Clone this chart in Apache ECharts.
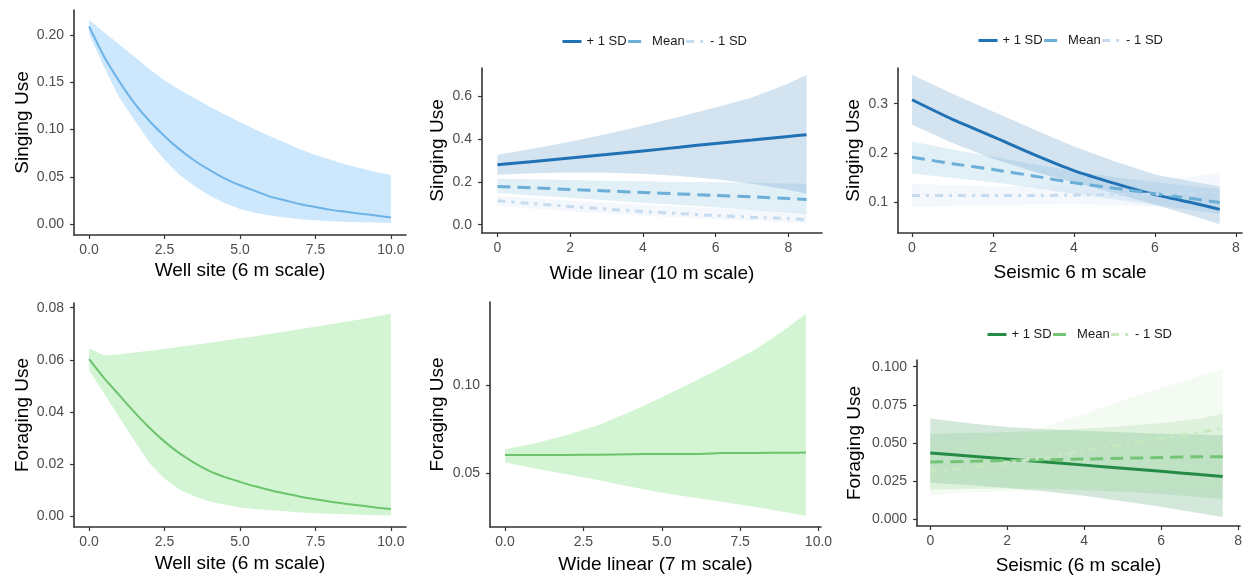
<!DOCTYPE html>
<html>
<head>
<meta charset="utf-8">
<script src="https://cdn.jsdelivr.net/npm/echarts@6/dist/echarts.min.js"></script>
<style>
html,body{margin:0;padding:0;background:#fff;}
#chart{width:1247px;height:580px;}
</style>
</head>
<body>
<div id="chart"></div>
<script>
// ---------- Panel 1: Singing use vs Well site (6 m scale) ----------
const wellX = [0,0.5,1,1.5,2,2.5,3,3.5,4,4.5,5,5.5,6,6.5,7,7.5,8,8.5,9,9.5,10];
const singWellMean = [0.209,0.177,0.151,0.128,0.109,0.093,0.079,0.067,0.057,0.048,0.041,0.035,0.029,0.025,0.021,0.018,0.015,0.013,0.011,0.009,0.007];
const singWellLow  = [0.201,0.166,0.134,0.110,0.087,0.068,0.052,0.040,0.030,0.022,0.016,0.012,0.009,0.007,0.005,0.004,0.003,0.0025,0.002,0.0015,0.001];
const singWellHigh = [0.216,0.203,0.190,0.177,0.164,0.152,0.142,0.133,0.124,0.116,0.108,0.100,0.093,0.086,0.079,0.073,0.068,0.063,0.059,0.055,0.052];

// ---------- Panel 2: Singing use vs Wide linear (10 m scale) ----------
const wideSingX = [0,1,2,3,4,5,6,7,8,8.5];
const wideSingPlus     = [0.280,0.296,0.312,0.328,0.345,0.362,0.380,0.396,0.413,0.421];
const wideSingPlusLow  = [0.234,0.240,0.244,0.243,0.238,0.228,0.213,0.192,0.163,0.145];
const wideSingPlusHigh = [0.327,0.356,0.388,0.424,0.463,0.505,0.548,0.595,0.660,0.700];
const wideSingMean     = [0.179,0.172,0.165,0.158,0.151,0.144,0.137,0.130,0.122,0.118];
const wideSingMeanLow  = [0.148,0.137,0.126,0.114,0.103,0.092,0.081,0.069,0.057,0.050];
const wideSingMeanHigh = [0.215,0.212,0.209,0.206,0.203,0.200,0.198,0.196,0.193,0.192];
const wideSingMinus     = [0.112,0.098,0.085,0.073,0.062,0.052,0.043,0.035,0.028,0.024];
const wideSingMinusLow  = [0.088,0.075,0.063,0.052,0.042,0.033,0.025,0.018,0.010,0.006];
const wideSingMinusHigh = [0.135,0.124,0.113,0.103,0.094,0.085,0.077,0.070,0.064,0.061];

// ---------- Panel 3: Singing use vs Seismic 6 m scale ----------
const seisSingX = [0,1,2,3,4,5,6,7,7.6];
const seisSingPlus     = [0.308,0.268,0.233,0.197,0.164,0.138,0.115,0.097,0.085];
const seisSingPlusLow  = [0.257,0.220,0.188,0.162,0.140,0.118,0.095,0.070,0.055];
const seisSingPlusHigh = [0.359,0.320,0.284,0.248,0.213,0.183,0.156,0.140,0.132];
const seisSingMean     = [0.191,0.178,0.166,0.153,0.139,0.128,0.117,0.106,0.099];
const seisSingMeanLow  = [0.158,0.149,0.140,0.129,0.117,0.105,0.094,0.083,0.076];
const seisSingMeanHigh = [0.223,0.207,0.192,0.177,0.163,0.151,0.140,0.131,0.126];
const seisSingMinus     = [0.113,0.113,0.113,0.113,0.114,0.115,0.116,0.117,0.118];
const seisSingMinusLow  = [0.090,0.092,0.094,0.095,0.096,0.094,0.090,0.084,0.080];
const seisSingMinusHigh = [0.137,0.134,0.132,0.132,0.134,0.139,0.145,0.153,0.159];

// ---------- Panel 4: Foraging use vs Well site (6 m scale) ----------
const forWellMean = [0.0603,0.053,0.0465,0.040,0.034,0.0287,0.0242,0.0205,0.0174,0.0151,0.0133,0.0116,0.0101,0.0088,0.0076,0.0066,0.0057,0.0049,0.0042,0.0035,0.0029];
const forWellLow  = [0.056,0.047,0.038,0.029,0.0205,0.0145,0.0103,0.0077,0.0058,0.0045,0.0035,0.0029,0.0024,0.002,0.0016,0.0013,0.0011,0.0009,0.0007,0.0005,0.0004];
const forWellHigh = [0.0645,0.0617,0.0622,0.0628,0.0635,0.0642,0.065,0.0658,0.0666,0.0674,0.0683,0.0691,0.070,0.0709,0.0718,0.0727,0.0737,0.0746,0.0756,0.0766,0.0777];

// ---------- Panel 5: Foraging use vs Wide linear (7 m scale) ----------
const wideForX = [0,1,2,3,4,5,6,7,8,9,9.6];
const wideForMean = [0.0604,0.0605,0.0605,0.0606,0.0609,0.0610,0.0610,0.0615,0.0616,0.0617,0.0618];
const wideForLow  = [0.0562,0.0527,0.0494,0.0462,0.0425,0.0392,0.0365,0.0338,0.0312,0.0280,0.0262];
const wideForHigh = [0.0637,0.0672,0.0718,0.0775,0.0848,0.0930,0.1015,0.1105,0.1200,0.1320,0.1400];

// ---------- Panel 6: Foraging use vs Seismic (6 m scale) ----------
const seisForX = [0,1,2,3,4,5,6,7,7.6];
const seisForPlus     = [0.0435,0.0415,0.0395,0.0375,0.0355,0.0335,0.0315,0.0293,0.0280];
const seisForPlusLow  = [0.0240,0.0225,0.0205,0.0182,0.0155,0.0118,0.0082,0.0040,0.0015];
const seisForPlusHigh = [0.0660,0.0630,0.0605,0.0590,0.0580,0.0570,0.0560,0.0555,0.0550];
const seisForMean     = [0.0375,0.0380,0.0385,0.0390,0.0395,0.0400,0.0405,0.0410,0.0410];
const seisForMeanLow  = [0.0195,0.0200,0.0202,0.0200,0.0190,0.0180,0.0165,0.0145,0.0133];
const seisForMeanHigh = [0.0560,0.0565,0.0570,0.0580,0.0595,0.0610,0.0630,0.0660,0.0690];
const seisForMinus     = [0.0310,0.0340,0.0370,0.0405,0.0450,0.0490,0.0530,0.0570,0.0595];
const seisForMinusLow  = [0.0160,0.0175,0.0185,0.0190,0.0195,0.0197,0.0197,0.0197,0.0197];
const seisForMinusHigh = [0.0500,0.0520,0.0550,0.0610,0.0690,0.0780,0.0860,0.0940,0.0980];

// ---------- Tick labels ----------
const wellTicks = [0, 2.5, 5, 7.5, 10];
const seisTicks = [0, 2, 4, 6, 8];
const singWellYTicks = [0, 0.05, 0.10, 0.15, 0.20];
const singWideYTicks = [0, 0.2, 0.4, 0.6];
const singSeisYTicks = [0.1, 0.2, 0.3];
const forWellYTicks = [0, 0.02, 0.04, 0.06, 0.08];
const forWideYTicks = [0.05, 0.10];
const forSeisYTicks = [0, 0.025, 0.05, 0.075, 0.1];
const legendLabels = ['+ 1 SD', 'Mean', '- 1 SD'];

// ---------- Styling ----------
const FONT = '"Liberation Sans", Arial, sans-serif';
const blues = ['#2171b5', '#6baed6', '#c6dbef'];
const greens = ['#238b45', '#74c476', '#c7e9c0'];
const lineTypes = ['solid', [13, 7], [8, 6, 3, 6]];

const grids = [], xAxes = [], yAxes = [], series = [], legends = [];

function addPanel(p) {
  const gi = grids.length;
  grids.push({left: p.left, top: p.top, width: p.right - p.left, height: p.bottom - p.top, outerBoundsMode: 'none'});
  const axisCommon = {
    type: 'value', gridIndex: gi, nameLocation: 'middle',
    nameTextStyle: {fontSize: 19, color: '#000', fontFamily: FONT},
    splitLine: {show: false},
    axisLine: {show: true, onZero: false, lineStyle: {color: '#333', width: 1.6}},
  };
  xAxes.push(Object.assign({}, axisCommon, {
    min: p.xmin, max: p.xmax, name: p.xname, nameGap: p.xgap,
    axisTick: {show: true, length: 4, customValues: p.xticks, lineStyle: {color: '#333', width: 1.2}},
    axisLabel: {customValues: p.xticks, formatter: v => v.toFixed(p.xdec), fontSize: 14, color: '#4d4d4d', fontFamily: FONT, margin: 8}
  }));
  yAxes.push(Object.assign({}, axisCommon, {
    min: p.ymin, max: p.ymax, name: p.yname, nameGap: p.ygap,
    axisTick: {show: true, length: 4, customValues: p.yticks, lineStyle: {color: '#333', width: 1.2}},
    axisLabel: {customValues: p.yticks, formatter: v => v.toFixed(p.ydec), fontSize: 14, color: '#4d4d4d', fontFamily: FONT, margin: 10}
  }));
  return gi;
}

// confidence ribbon: polygon through the axis scales (upper edge forward, lower edge back)
function addBand(gi, xs, lo, hi, color, opacity) {
  series.push({
    type: 'custom', xAxisIndex: gi, yAxisIndex: gi, silent: true, z: 1,
    data: xs.map((x, i) => [x, lo[i], hi[i]]),
    encode: {x: 0, y: [1, 2]},
    renderItem: function (params, api) {
      if (params.dataIndex !== 0) return null;
      const upper = xs.map((x, i) => api.coord([x, hi[i]]));
      const lower = xs.map((x, i) => api.coord([x, lo[i]])).reverse();
      return {type: 'polygon', shape: {points: upper.concat(lower)}, style: {fill: color, opacity: opacity}};
    }
  });
}

function addLine(gi, name, xs, ys, color, width, type) {
  series.push({
    type: 'line', name: name, xAxisIndex: gi, yAxisIndex: gi,
    data: xs.map((x, i) => [x, ys[i]]), symbol: 'none', smooth: 0.2,
    lineStyle: {color: color, width: width, type: type}, itemStyle: {color: color}, z: 3
  });
}

function addLegend(prefix, left, top) {
  legends.push({
    left: left, top: top, padding: 0, orient: 'horizontal', itemGap: 0, itemWidth: 19, itemHeight: 14,
    icon: 'inherit',
    itemStyle: {opacity: 0},
    lineStyle: {width: 3},
    data: legendLabels.map(l => prefix + l),
    formatter: n => n.slice(prefix.length),
    textStyle: {fontSize: 13, color: '#1a1a1a', fontFamily: FONT},
    selectedMode: false
  });
}

// Panel 1
let g = addPanel({left: 74, top: 10, right: 406, bottom: 235,
  xmin: -0.5, xmax: 10.5, xticks: wellTicks, xdec: 1, xname: 'Well site (6 m scale)', xgap: 26,
  ymin: -0.0116, ymax: 0.2265, yticks: singWellYTicks, ydec: 2, yname: 'Singing Use', ygap: 42});
addBand(g, wellX, singWellLow, singWellHigh, '#cde8fc', 1);
addLine(g, 'p1', wellX, singWellMean, '#6db3e8', 2, 'solid');

// Panel 2
g = addPanel({left: 482, top: 68, right: 822, bottom: 233,
  xmin: -0.425, xmax: 8.925, xticks: seisTicks, xdec: 0, xname: 'Wide linear (10 m scale)', xgap: 31,
  ymin: -0.039, ymax: 0.733, yticks: singWideYTicks, ydec: 1, yname: 'Singing Use', ygap: 35});
addBand(g, wideSingX, wideSingPlusLow, wideSingPlusHigh, blues[0], 0.2);
addBand(g, wideSingX, wideSingMeanLow, wideSingMeanHigh, blues[1], 0.2);
addBand(g, wideSingX, wideSingMinusLow, wideSingMinusHigh, blues[2], 0.2);
addLine(g, 'S2 + 1 SD', wideSingX, wideSingPlus, blues[0], 3, lineTypes[0]);
addLine(g, 'S2 Mean', wideSingX, wideSingMean, blues[1], 3, lineTypes[1]);
addLine(g, 'S2 - 1 SD', wideSingX, wideSingMinus, blues[2], 3, lineTypes[2]);
addLegend('S2 ', 561, 35);

// Panel 3
g = addPanel({left: 898, top: 68, right: 1242, bottom: 233,
  xmin: -0.346, xmax: 8.15, xticks: seisTicks, xdec: 0, xname: 'Seismic 6 m scale', xgap: 30,
  ymin: 0.037, ymax: 0.3725, yticks: singSeisYTicks, ydec: 1, yname: 'Singing Use', ygap: 35});
addBand(g, seisSingX, seisSingPlusLow, seisSingPlusHigh, blues[0], 0.2);
addBand(g, seisSingX, seisSingMeanLow, seisSingMeanHigh, blues[1], 0.2);
addBand(g, seisSingX, seisSingMinusLow, seisSingMinusHigh, blues[2], 0.2);
addLine(g, 'S3 + 1 SD', seisSingX, seisSingPlus, blues[0], 3, lineTypes[0]);
addLine(g, 'S3 Mean', seisSingX, seisSingMean, blues[1], 3, lineTypes[1]);
addLine(g, 'S3 - 1 SD', seisSingX, seisSingMinus, blues[2], 3, lineTypes[2]);
addLegend('S3 ', 977, 34);

// Panel 4
g = addPanel({left: 74, top: 303, right: 406, bottom: 527,
  xmin: -0.5, xmax: 10.5, xticks: wellTicks, xdec: 1, xname: 'Well site (6 m scale)', xgap: 27,
  ymin: -0.004, ymax: 0.0818, yticks: forWellYTicks, ydec: 2, yname: 'Foraging Use', ygap: 42});
addBand(g, wellX, forWellLow, forWellHigh, '#d4f5d4', 1);
addLine(g, 'p4', wellX, forWellMean, '#6cc46c', 2, 'solid');

// Panel 5
g = addPanel({left: 490, top: 302, right: 821, bottom: 527,
  xmin: -0.48, xmax: 10.08, xticks: wellTicks, xdec: 1, xname: 'Wide linear (7 m scale)', xgap: 28,
  ymin: 0.0199, ymax: 0.1466, yticks: forWideYTicks, ydec: 2, yname: 'Foraging Use', ygap: 43});
addBand(g, wideForX, wideForLow, wideForHigh, '#d4f5d4', 1);
addLine(g, 'p5', wideForX, wideForMean, '#6cc46c', 2, 'solid');

// Panel 6
g = addPanel({left: 917, top: 360, right: 1240, bottom: 526,
  xmin: -0.345, xmax: 8.05, xticks: seisTicks, xdec: 0, xname: 'Seismic (6 m scale)', xgap: 30,
  ymin: -0.0044, ymax: 0.1044, yticks: forSeisYTicks, ydec: 3, yname: 'Foraging Use', ygap: 53});
addBand(g, seisForX, seisForPlusLow, seisForPlusHigh, greens[0], 0.2);
addBand(g, seisForX, seisForMeanLow, seisForMeanHigh, greens[1], 0.2);
addBand(g, seisForX, seisForMinusLow, seisForMinusHigh, greens[2], 0.2);
addLine(g, 'S6 + 1 SD', seisForX, seisForPlus, greens[0], 3, lineTypes[0]);
addLine(g, 'S6 Mean', seisForX, seisForMean, greens[1], 3, lineTypes[1]);
addLine(g, 'S6 - 1 SD', seisForX, seisForMinus, greens[2], 3, lineTypes[2]);
addLegend('S6 ', 986, 328);

const chart = echarts.init(document.getElementById('chart'), null, {renderer: 'canvas'});
chart.setOption({
  animation: false,
  backgroundColor: '#fff',
  textStyle: {fontFamily: FONT},
  grid: grids, xAxis: xAxes, yAxis: yAxes, series: series, legend: legends
});
</script>
</body>
</html>
